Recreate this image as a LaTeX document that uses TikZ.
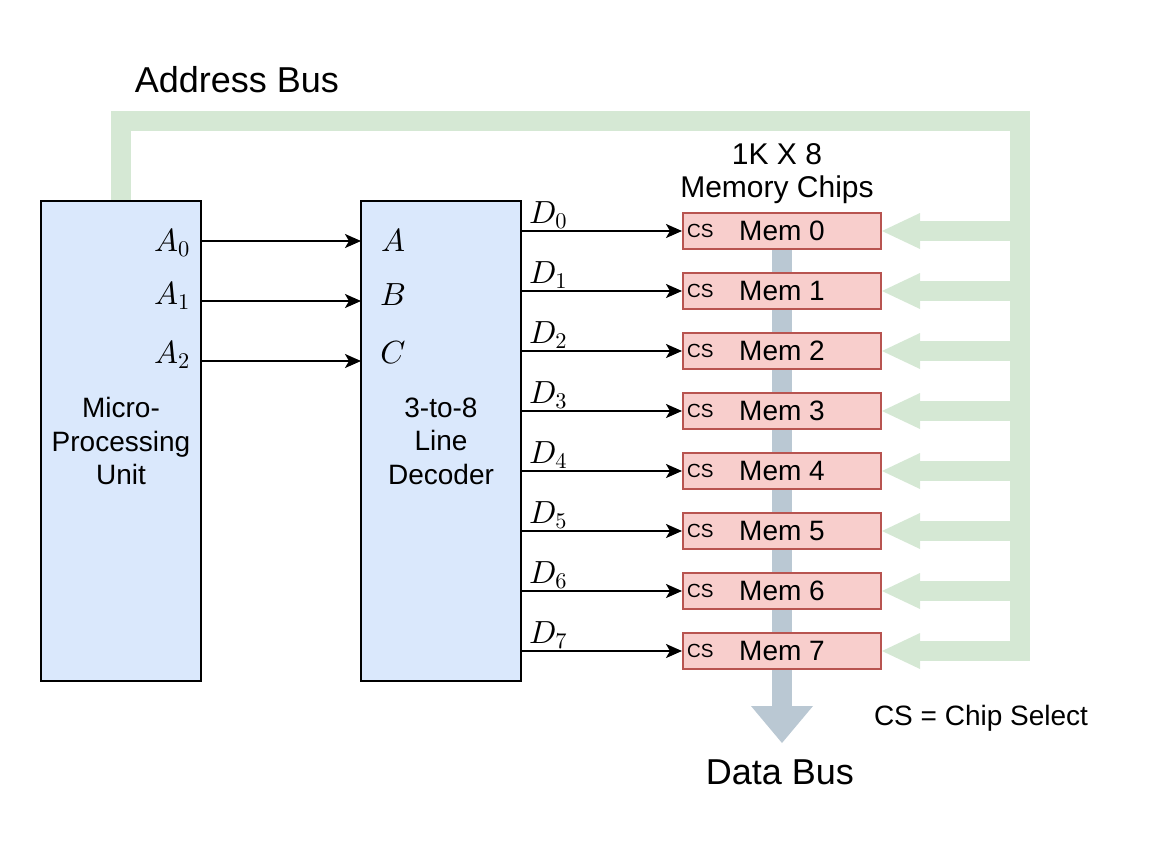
\RequirePackage{fix-cm}
\documentclass[tikz,border=0pt]{standalone}
\usepackage[no-math]{fontspec}
\setmainfont{Liberation Sans}
\usetikzlibrary{arrows.meta,backgrounds}
\DeclareFontShape{OML}{cmm}{m}{it}{<->cmmi10}{}
\DeclareFontShape{OT1}{cmr}{m}{n}{<->cmr10}{}

\definecolor{procblue}{HTML}{DAE8FC}
\definecolor{chipred}{HTML}{F8CECC}
\definecolor{chipedge}{HTML}{B85450}
\definecolor{addrgreen}{HTML}{D5E8D4}
\definecolor{datagray}{HTML}{BAC8D3}

\newcommand{\bigtext}{\fontsize{36}{43}\selectfont}
\newcommand{\midtext}{\fontsize{28}{33.6}\selectfont}
\newcommand{\headtext}{\fontsize{30}{33}\selectfont}
\newcommand{\cstext}{\fontsize{19}{23}\selectfont}
\newcommand{\mathtext}{\fontsize{32}{38}\selectfont}

\tikzset{
  block/.style={draw,line width=2pt,fill=procblue,minimum width=160pt,
    minimum height=480pt,align=center,font=\midtext},
  chip/.style={draw=chipedge,line width=2pt,fill=chipred,minimum width=198pt,
    minimum height=36pt,inner sep=0pt,font=\midtext,
    label={[cslabel]west:CS}},
  cslabel/.style={anchor=west,inner sep=5pt,font=\cstext},
  mlabel/.style={inner sep=0pt,font=\mathtext},
  dlabel/.style={pos=0,anchor=south west,inner sep=0pt,xshift=6pt,yshift=2pt,
    font=\mathtext},
  addrbus/.style={draw=addrgreen,line width=20pt,
    -{Triangle[length=38pt,width=36pt,line width=0pt 0]}},
  databus/.style={draw=datagray,line width=20pt,
    -{Triangle[length=37pt,width=62pt,line width=0pt 0]}}
}

\begin{document}
\begin{tikzpicture}[x=1pt,y=-1pt]
  \useasboundingbox (0,0) rectangle (1152,852);

  % processor and decoder
  \node[block] (mpu) at (121,441) {Micro-\\Processing\\Unit};
  \node[block] (dec) at (441,441) {3-to-8\\Line\\Decoder};

  % memory chips
  \node[chip] (m0) at (782,231) {Mem 0};
  \node[chip] (m1) at (782,291) {Mem 1};
  \node[chip] (m2) at (782,351) {Mem 2};
  \node[chip] (m3) at (782,411) {Mem 3};
  \node[chip] (m4) at (782,471) {Mem 4};
  \node[chip] (m5) at (782,531) {Mem 5};
  \node[chip] (m6) at (782,591) {Mem 6};
  \node[chip] (m7) at (782,651) {Mem 7};

  % address lines
  \node[mlabel,anchor=east] (a0) at (190,243) {$A_0$};
  \node[mlabel,anchor=east] (a1) at (190,296) {$A_1$};
  \node[mlabel,anchor=east] (a2) at (190,355) {$A_2$};
  \node[mlabel] (ia) at (393,241) {$A$};
  \node[mlabel] (ib) at (393,295) {$B$};
  \node[mlabel] (ic) at (393,353) {$C$};
  \coordinate (pa) at (361,241);
  \coordinate (pb) at (361,301);
  \coordinate (pc) at (361,361);

  \begin{scope}[every edge/.style={draw,line width=2pt,
      -{Stealth[length=16pt,width=14pt,inset=4pt]}}]
    \path (mpu.east |- pa) edge (pa);
    \path (mpu.east |- pb) edge (pb);
    \path (mpu.east |- pc) edge (pc);

    \path (dec.east |- m0.west) edge node[dlabel] {$D_0$} (m0.west);
    \path (dec.east |- m1.west) edge node[dlabel] {$D_1$} (m1.west);
    \path (dec.east |- m2.west) edge node[dlabel] {$D_2$} (m2.west);
    \path (dec.east |- m3.west) edge node[dlabel] {$D_3$} (m3.west);
    \path (dec.east |- m4.west) edge node[dlabel] {$D_4$} (m4.west);
    \path (dec.east |- m5.west) edge node[dlabel] {$D_5$} (m5.west);
    \path (dec.east |- m6.west) edge node[dlabel] {$D_6$} (m6.west);
    \path (dec.east |- m7.west) edge node[dlabel] {$D_7$} (m7.west);
  \end{scope}

  % buses
  \coordinate (abl) at (121,121);
  \coordinate (abr) at (1020,121);
  \coordinate (ab0) at (1020,231);
  \coordinate (ab1) at (1020,291);
  \coordinate (ab2) at (1020,351);
  \coordinate (ab3) at (1020,411);
  \coordinate (ab4) at (1020,471);
  \coordinate (ab5) at (1020,531);
  \coordinate (ab6) at (1020,591);
  \coordinate (ab7) at (1020,651);
  \coordinate (dbus) at (781,743);

  \begin{scope}[on background layer]
    \draw[addrbus] (mpu.north) -- (abl) -- (abr) -- (ab7) -- (m7.east);
    \begin{scope}[every edge/.style={addrbus}]
      \path (ab0) edge (m0.east);
      \path (ab1) edge (m1.east);
      \path (ab2) edge (m2.east);
      \path (ab3) edge (m3.east);
      \path (ab4) edge (m4.east);
      \path (ab5) edge (m5.east);
      \path (ab6) edge (m6.east);
    \end{scope}
    \draw[databus] (m0.center) -- (m0.center |- dbus);
  \end{scope}

  % texts
  \node[font=\bigtext] (abus) at (237,80) {Address Bus};
  \node[font=\bigtext] (dbuslabel) at (780,772) {Data Bus};
  \node[font=\headtext,align=center] (chips) at (777,174) {1K X 8\\Memory Chips};
  \node[font=\midtext] (csnote) at (981,718) {CS = Chip Select};
\end{tikzpicture}
\end{document}
